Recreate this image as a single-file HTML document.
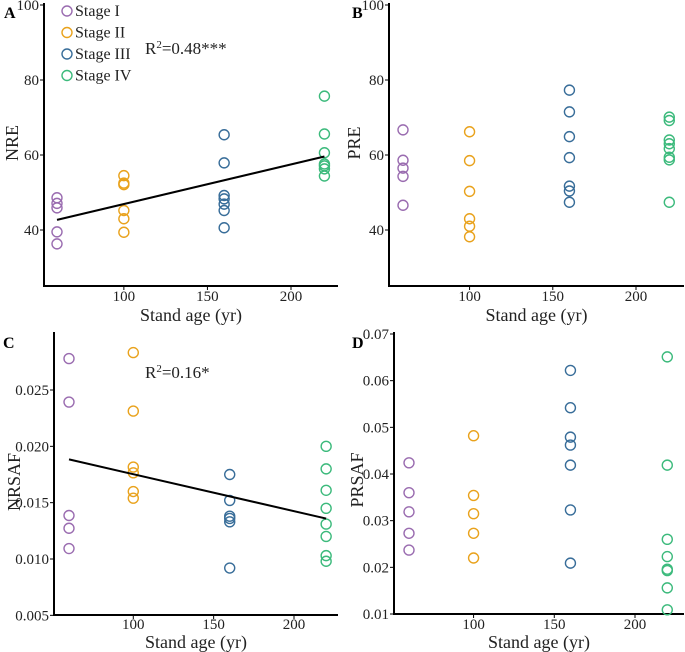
<!DOCTYPE html>
<html><head><meta charset="utf-8"><style>
body{margin:0;background:#fff}
svg{display:block;font-family:"Liberation Serif",serif}
</style></head><body>
<svg id="chart" width="685" height="652" viewBox="0 0 685 652" xmlns="http://www.w3.org/2000/svg"></svg>
<script>
const stages = ["Stage I","Stage II","Stage III","Stage IV"];
const stageAges = [60,100,160,220];
const colors = ["#9a6cb0","#e9a21c","#386d99","#3cba7c"];
const xTicks = [100,150,200];
const nreValues = [[48.6,47.1,45.9,39.5,36.3],[54.5,52.5,52.1,45.2,43.0,39.4],[65.4,57.9,49.2,48.3,46.9,45.2,40.6],[75.7,65.6,60.6,57.6,57.1,56.3,54.4]];
const preValues = [[66.7,58.6,56.5,54.3,46.6],[66.2,58.5,50.3,43.0,41.0,38.2],[77.3,71.5,64.9,59.3,51.7,50.4,47.4],[70.1,69.2,64.0,63.0,61.7,59.4,58.7,47.4]];
const nrsafValues = [[0.02779,0.02393,0.01386,0.01273,0.01093],[0.02832,0.02313,0.01816,0.01765,0.01599,0.0154],[0.0175,0.0152,0.0138,0.0136,0.0133,0.0092],[0.0200,0.0180,0.0161,0.0145,0.0131,0.0120,0.0103,0.0098]];
const prsafValues = [[0.0424,0.0360,0.0319,0.0273,0.0237],[0.0482,0.0354,0.0315,0.0273,0.0220],[0.0622,0.0542,0.0479,0.0462,0.0419,0.0323,0.0209],[0.0651,0.0419,0.0260,0.0223,0.0196,0.0193,0.0156,0.0109]];
const nreTicks = [40,60,80,100];
const nrsafTicks = [0.005,0.010,0.015,0.020,0.025];
const prsafTicks = [0.01,0.02,0.03,0.04,0.05,0.06,0.07];
const nreFit = [42.7,59.6];
const nrsafFit = [0.01884,0.01359];

const NS="http://www.w3.org/2000/svg";
const svg=document.getElementById('chart');
function mk(tag,attrs,parent){const e=document.createElementNS(NS,tag);for(const k in attrs)e.setAttribute(k,attrs[k]);(parent||svg).appendChild(e);return e;}

const panels=[
 {id:'a',letter:'A',lx:4,ly:18,ax:44,ay:286,right:338,top:3,x0:60,px0:57,x1:200,px1:291,y0:40,py0:230,y1:80,py1:80,data:nreValues,ticks:nreTicks,fmt:v=>String(v),title:'NRE',tx:18,tyc:143,fit:nreFit,r2:'0.48***',r2x:145,r2y:54,legend:true,xlabY:301,xtitY:321},
 {id:'b',letter:'B',lx:352,ly:18,ax:389,ay:286,right:684,top:3,x0:60,px0:403,x1:200,px1:636,y0:40,py0:230,y1:80,py1:80,data:preValues,ticks:nreTicks,fmt:v=>String(v),title:'PRE',tx:360,tyc:143,xlabY:301,xtitY:321},
 {id:'c',letter:'C',lx:3,ly:348,ax:54,ay:615,right:338,top:332,x0:60,px0:69,x1:200,px1:294,y0:0.010,py0:559,y1:0.025,py1:390,data:nrsafValues,ticks:nrsafTicks,fmt:v=>v.toFixed(3),title:'NRSAF',tx:20,tyc:482,fit:nrsafFit,r2:'0.16*',r2x:145,r2y:378,xlabY:629,xtitY:648},
 {id:'d',letter:'D',lx:352,ly:348,ax:394,ay:614,right:684,top:332,x0:60,px0:409,x1:200,px1:635,y0:0.01,py0:614,y1:0.07,py1:334,data:prsafValues,ticks:prsafTicks,fmt:v=>v.toFixed(2),title:'PRSAF',tx:363,tyc:480,xlabY:629,xtitY:648}
];

panels.forEach(p=>{
  const g=mk('g',{});
  
  
  const sx=v=>p.px0+(v-p.x0)*(p.px1-p.px0)/(p.x1-p.x0);
  const sy=v=>p.py0+(v-p.y0)*(p.py1-p.py0)/(p.y1-p.y0);
  const L=mk('text',{x:p.lx,y:p.ly,'font-size':16,'font-weight':'bold'},g);L.textContent=p.letter;
  
  const ya=mk('line',{x1:p.ax,y1:p.top,x2:p.ax,y2:p.ay+1,stroke:'#000','stroke-width':2},g);
  
  const xa=mk('line',{x1:p.ax-1,y1:p.ay,x2:p.right,y2:p.ay,stroke:'#000','stroke-width':2},g);
  
  p.ticks.forEach(t=>{
    const y=sy(t);
    mk('line',{x1:p.ax-4,y1:y,x2:p.ax,y2:y,stroke:'#000','stroke-width':1},g);
    const tl=mk('text',{x:p.ax-5,y:y+5,'font-size':15,'text-anchor':'end',fill:'#222'},g);tl.textContent=p.fmt(t);
    
  });
  xTicks.forEach(t=>{
    const x=sx(t);
    mk('line',{x1:x,y1:p.ay,x2:x,y2:p.ay+4,stroke:'#000','stroke-width':1},g);
    const tl=mk('text',{x:x,y:p.xlabY,'font-size':15,'text-anchor':'middle',fill:'#222'},g);tl.textContent=t;
    
  });
  const xt=mk('text',{x:(p.ax+p.right)/2,y:p.xtitY,'font-size':18,'text-anchor':'middle',fill:'#222'},g);xt.textContent='Stand age (yr)';
  
  const yt=mk('text',{x:p.tx,y:p.tyc,'font-size':18,'text-anchor':'middle',fill:'#222',transform:`rotate(-90 ${p.tx} ${p.tyc})`},g);yt.textContent=p.title;
  
  p.data.forEach((arr,si)=>{
    arr.forEach(v=>{
      const c=mk('circle',{cx:sx(stageAges[si]),cy:sy(v),r:5,fill:'none',stroke:colors[si],'stroke-width':1.4},g);
      
      
    });
  });
  if(p.fit){
    const fl=mk('line',{x1:sx(stageAges[0]),y1:sy(p.fit[0]),x2:sx(stageAges[3]),y2:sy(p.fit[1]),stroke:'#000','stroke-width':2},g);
    
    const rt=mk('text',{x:p.r2x,y:p.r2y,'font-size':17,fill:'#222'},g);
    rt.innerHTML='R<tspan font-size="11" dy="-6">2</tspan><tspan dy="6">='+p.r2+'</tspan>';
    
  }
  if(p.legend){
    stages.forEach((s,i)=>{
      const y=11+i*21.5;
      const lg=mk('g',{},g);
      
      
      mk('circle',{cx:67,cy:y,r:5,fill:'none',stroke:colors[i],'stroke-width':1.4},lg);
      const t=mk('text',{x:75,y:y+5,'font-size':16,fill:'#222'},lg);t.textContent=s;
    });
  }
});
</script>
</body></html>
